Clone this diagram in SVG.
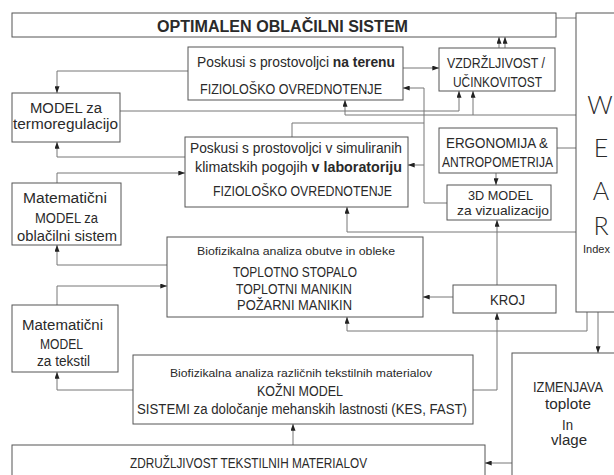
<svg xmlns="http://www.w3.org/2000/svg" width="614" height="475" viewBox="0 0 614 475">
<defs>
<marker id="a" viewBox="0 0 8 6" refX="8" refY="3" markerWidth="7" markerHeight="5" orient="auto" markerUnits="userSpaceOnUse"><path d="M0,0 L8,3 L0,6 z" fill="#222"/></marker>
</defs>
<style>
.b{fill:#fff;stroke:#555;stroke-width:1}
.c{fill:none;stroke:#777;stroke-width:1}
.c.m{marker-end:url(#a)}
text{font-family:"Liberation Sans",Arial,sans-serif;font-size:14px;fill:#2a2a2a}
.s{font-size:11px}
.t{font-size:13px}
.bd{font-weight:bold}
.w{font-size:25px;text-anchor:middle;font-weight:300;font-family:Lato,Roboto,"Liberation Sans",sans-serif}
</style>
<rect width="614" height="475" fill="#fff"/>
<g id="connectors">
<path class="c m" d="M188,71 H57 V93"/>
<path class="c m" d="M185,157 H57 V142"/>
<path class="c m" d="M120,111 H459 V91"/>
<path class="c m" d="M576,115 H345 V100"/>
<path class="c m" d="M473,115 V91"/>
<path class="c m" d="M403,68 H439"/>
<path class="c m" d="M499,48 V37"/>
<path class="c m" d="M505,48 V37"/>
<path class="c" d="M556,18 H602 V38"/>
<path class="c m" d="M599,38 V47"/>
<path class="c m" d="M605,38 V47"/>
<path class="c m" d="M447,203 H424 V88 H403"/>
<path class="c m" d="M424,165 H408"/>
<path class="c" d="M292,137 V123 H424"/>
<path class="c m" d="M57,183 V173 H185"/>
<path class="c m" d="M167,265 H57 V245"/>
<path class="c m" d="M57,305 V286 H167"/>
<path class="c m" d="M576,232 H347 V207"/>
<path class="c" d="M557,148 H576"/>
<path class="c m" d="M496,173 V185"/>
<path class="c m" d="M497,285 V220"/>
<path class="c m" d="M453,297 H423"/>
<path class="c m" d="M473,390 H497 V313"/>
<path class="c m" d="M587,312 V331 H347 V317"/>
<path class="c m" d="M598,312 V353"/>
<path class="c m" d="M512,463 H485"/>
<path class="c m" d="M293,445 V424"/>
<path class="c m" d="M133,390 H57 V372"/>
</g>
<g id="title">
<rect class="b" x="12" y="13" width="544" height="24"/>
<text x="157" y="32" class="bd" style="font-size:16px" textLength="251" lengthAdjust="spacingAndGlyphs">OPTIMALEN OBLAČILNI SISTEM</text>
</g>
<g id="wear">
<rect class="b" x="576" y="13" width="60" height="299"/>
<text class="w" x="600" y="114">W</text>
<text class="w" x="601" y="157">E</text>
<text class="w" x="601" y="200">A</text>
<text class="w" x="601" y="235">R</text>
<text x="583" y="253" class="s">Index</text>
</g>
<g id="teren">
<rect class="b" x="188" y="47" width="215" height="53"/>
<text x="197" y="67" textLength="198" lengthAdjust="spacingAndGlyphs">Poskusi s prostovoljci <tspan class="bd">na terenu</tspan></text>
<text x="200" y="94" textLength="182" lengthAdjust="spacingAndGlyphs">FIZIOLOŠKO OVREDNOTENJE</text>
</g>
<g id="vzdrzljivost">
<rect class="b" x="439" y="48" width="116" height="43"/>
<text x="447" y="68" textLength="98" lengthAdjust="spacingAndGlyphs">VZDRŽLJIVOST /</text>
<text x="453" y="87" textLength="89" lengthAdjust="spacingAndGlyphs">UČINKOVITOST</text>
</g>
<g id="termoregulacija">
<rect class="b" x="12" y="93" width="108" height="49"/>
<text x="30" y="113" textLength="72" lengthAdjust="spacingAndGlyphs">MODEL  za</text>
<text x="13" y="129" textLength="105" lengthAdjust="spacingAndGlyphs">termoregulacijo</text>
</g>
<g id="laboratorij">
<rect class="b" x="185" y="137" width="223" height="70"/>
<text x="190" y="153" textLength="212" lengthAdjust="spacingAndGlyphs">Poskusi s prostovoljci v simuliranih</text>
<text x="195" y="172" textLength="207" lengthAdjust="spacingAndGlyphs">klimatskih pogojih <tspan class="bd">v laboratoriju</tspan></text>
<text x="213" y="196" textLength="179" lengthAdjust="spacingAndGlyphs">FIZIOLOŠKO OVREDNOTENJE</text>
</g>
<g id="ergonomija">
<rect class="b" x="439" y="128" width="118" height="45"/>
<text x="446" y="148" textLength="102" lengthAdjust="spacingAndGlyphs">ERGONOMIJA &amp;</text>
<text x="442" y="167" textLength="111" lengthAdjust="spacingAndGlyphs">ANTROPOMETRIJA</text>
</g>
<g id="model3d">
<rect class="b" x="447" y="185" width="104" height="35"/>
<text x="468" y="200" class="t" textLength="65" lengthAdjust="spacingAndGlyphs">3D MODEL</text>
<text x="457" y="215" class="t" textLength="92" lengthAdjust="spacingAndGlyphs">za vizualizacijo</text>
</g>
<g id="mat-oblacilni">
<rect class="b" x="12" y="183" width="109" height="62"/>
<text x="23" y="203" textLength="84" lengthAdjust="spacingAndGlyphs">Matematični</text>
<text x="35" y="223" textLength="63" lengthAdjust="spacingAndGlyphs">MODEL za</text>
<text x="17" y="241" textLength="100" lengthAdjust="spacingAndGlyphs">oblačilni sistem</text>
</g>
<g id="obutev">
<rect class="b" x="167" y="237" width="256" height="80"/>
<text x="197" y="255" class="s" textLength="198" lengthAdjust="spacingAndGlyphs">Biofizikalna analiza obutve in obleke</text>
<text x="233" y="277" textLength="124" lengthAdjust="spacingAndGlyphs">TOPLOTNO STOPALO</text>
<text x="236" y="294" textLength="116" lengthAdjust="spacingAndGlyphs">TOPLOTNI MANIKIN</text>
<text x="237" y="310" textLength="115" lengthAdjust="spacingAndGlyphs">POŽARNI MANIKIN</text>
</g>
<g id="kroj">
<rect class="b" x="453" y="285" width="103" height="28"/>
<text x="490" y="305" textLength="35" lengthAdjust="spacingAndGlyphs">KROJ</text>
</g>
<g id="mat-tekstil">
<rect class="b" x="12" y="305" width="106" height="67"/>
<text x="22" y="330" textLength="81" lengthAdjust="spacingAndGlyphs">Matematični</text>
<text x="40" y="349" textLength="43" lengthAdjust="spacingAndGlyphs">MODEL</text>
<text x="37" y="366" textLength="53" lengthAdjust="spacingAndGlyphs">za tekstil</text>
</g>
<g id="tekstil">
<rect class="b" x="133" y="355" width="340" height="69"/>
<text x="170" y="377" class="s" textLength="262" lengthAdjust="spacingAndGlyphs">Biofizikalna analiza različnih tekstilnih materialov</text>
<text x="257" y="396" textLength="86" lengthAdjust="spacingAndGlyphs">KOŽNI MODEL</text>
<text x="137" y="414" textLength="330" lengthAdjust="spacingAndGlyphs">SISTEMI za določanje mehanskih lastnosti (KES, FAST)</text>
</g>
<g id="izmenjava">
<rect class="b" x="512" y="353" width="120" height="140"/>
<text x="533" y="392" textLength="70" lengthAdjust="spacingAndGlyphs">IZMENJAVA</text>
<text x="545" y="409" textLength="46" lengthAdjust="spacingAndGlyphs">toplote</text>
<text x="562" y="430" textLength="11" lengthAdjust="spacingAndGlyphs">In</text>
<text x="551" y="445" textLength="36" lengthAdjust="spacingAndGlyphs">vlage</text>
</g>
<g id="zdruzljivost">
<rect class="b" x="12" y="445" width="473" height="40"/>
<text x="130" y="468" textLength="237" lengthAdjust="spacingAndGlyphs">ZDRUŽLJIVOST TEKSTILNIH MATERIALOV</text>
</g>
</svg>
